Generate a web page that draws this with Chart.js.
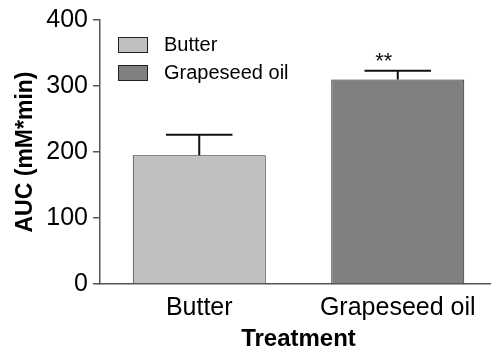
<!DOCTYPE html>
<html>
<head>
<meta charset="utf-8">
<script src="https://cdn.jsdelivr.net/npm/chart.js@4/dist/chart.umd.min.js"></script>
<style>
  html, body { margin: 0; padding: 0; background: #fff; overflow: hidden; }
  #wrap { width: 497px; height: 351px; }
</style>
</head>
<body>
<div id="wrap"><canvas id="aucChart" width="497" height="351"></canvas></div>
<script>
// Data
const categories = ['Butter', 'Grapeseed oil'];
const aucMeans = [195, 310];
const aucErrors = [31, 13];
const significance = ['', '**'];
const yTicks = [0, 100, 200, 300, 400];
const barColors = ['#c0c0c0', '#808080'];

const FONT = "'Liberation Sans', Arial, sans-serif";

// error bars + significance stars
const errorBarPlugin = {
  id: 'errorBars',
  afterDatasetsDraw(chart) {
    const ctx = chart.ctx;
    const yScale = chart.scales.y;
    const meta = chart.getDatasetMeta(0);
    ctx.save();
    meta.data.forEach((bar, i) => {
      const x = bar.x;
      const half = bar.width / 4;
      const yTop = yScale.getPixelForValue(aucMeans[i] + aucErrors[i]);
      const yMean = yScale.getPixelForValue(aucMeans[i]);
      ctx.strokeStyle = '#111';
      ctx.lineWidth = 2;
      ctx.beginPath();
      ctx.moveTo(x, yMean);
      ctx.lineTo(x, yTop);
      ctx.moveTo(x - half, yTop);
      ctx.lineTo(x + half, yTop);
      ctx.stroke();
      if (significance[i]) {
        ctx.fillStyle = '#111';
        ctx.font = '22px ' + FONT;
        ctx.textAlign = 'center';
        ctx.textBaseline = 'alphabetic';
        ctx.fillText(significance[i], x - 14, yTop - 3);
      }
    });
    ctx.restore();
  }
};

// legend drawn inside the plot area, top left
const innerLegend = {
  id: 'innerLegend',
  afterDraw(chart) {
    const ctx = chart.ctx;
    const left = chart.chartArea.left;
    ctx.save();
    categories.forEach((name, i) => {
      const y = 37 + i * 28;
      ctx.fillStyle = barColors[i];
      ctx.fillRect(left + 18, y, 29, 15);
      ctx.strokeStyle = '#222';
      ctx.lineWidth = 1;
      ctx.strokeRect(left + 18.5, y + 0.5, 29, 15);
      ctx.fillStyle = '#000';
      ctx.font = '20px ' + FONT;
      ctx.textAlign = 'left';
      ctx.textBaseline = 'middle';
      ctx.fillText(name, left + 64, y + 8);
    });
    ctx.restore();
  }
};

new Chart(document.getElementById('aucChart'), {
  type: 'bar',
  data: {
    labels: categories,
    datasets: [{
      label: 'AUC',
      data: aucMeans,
      backgroundColor: barColors,
      borderColor: '#222',
      borderWidth: 1,
      barPercentage: 0.67,
      categoryPercentage: 1
    }]
  },
  options: {
    responsive: false,
    animation: false,
    devicePixelRatio: 1,
    layout: { padding: { top: 20, right: 0, left: 0, bottom: 0 } },
    plugins: {
      legend: { display: false },
      tooltip: { enabled: false }
    },
    scales: {
      x: {
        grid: { display: false },
        border: { display: true, color: '#555', width: 1.5 },
        ticks: { color: '#000', font: { family: FONT, size: 25 }, padding: 1 },
        title: {
          display: true,
          text: 'Treatment',
          color: '#000',
          font: { family: FONT, size: 24, weight: 'bold' },
          padding: { top: 0, bottom: -3 }
        },
        afterFit(scale) { scale.height = 67; }
      },
      y: {
        min: 0,
        max: 400,
        afterBuildTicks(scale) { scale.ticks = yTicks.map(v => ({ value: v })); },
        grid: { drawOnChartArea: false, drawTicks: true, tickLength: 7, color: '#555', lineWidth: 1.5 },
        border: { display: true, color: '#555', width: 1.5 },
        ticks: { color: '#000', font: { family: FONT, size: 25 }, padding: 5 },
        title: {
          display: true,
          text: 'AUC (mM*min)',
          color: '#000',
          font: { family: FONT, size: 23, weight: 'bold' },
          padding: { top: 12, bottom: 0 }
        },
        afterFit(scale) { scale.width = 100; }
      }
    }
  },
  plugins: [errorBarPlugin, innerLegend]
});
</script>
</body>
</html>
